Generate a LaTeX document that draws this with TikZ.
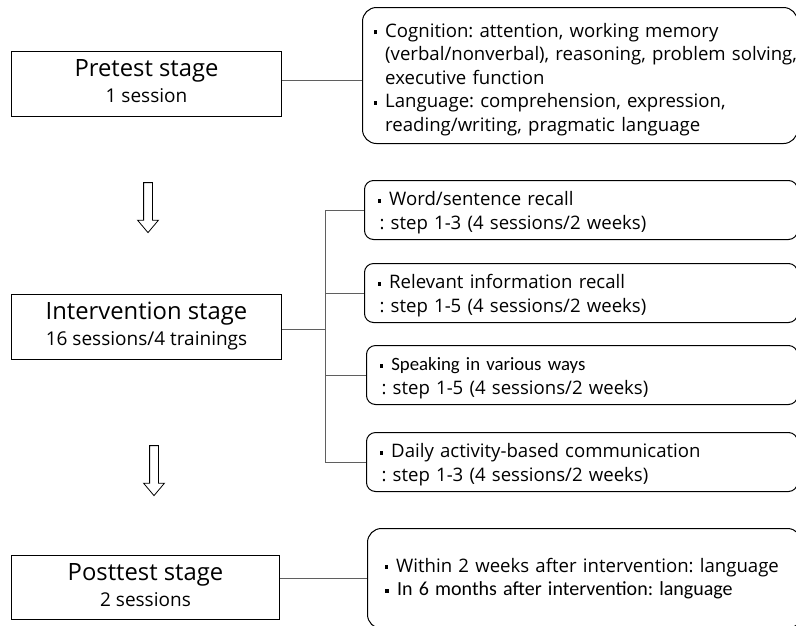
\documentclass[tikz,border=0pt]{standalone}
\usepackage{fontspec}
\setmainfont{Open Sans}
\newfontfamily\carlito{Carlito}
\usetikzlibrary{positioning,shapes.arrows}
\definecolor{linegray}{RGB}{95,95,95}
\newcommand{\blt}{\raisebox{0.3ex}{\rule{0.21em}{0.21em}}\hspace{0.42em}}
\newcommand{\indt}{\phantom{\blt}}
\newcommand{\topgap}[1]{\rule{0pt}{#1}}
\frenchspacing

\begin{document}
\begin{tikzpicture}[x=1pt,y=-1pt,
  stagebox/.style={draw,line width=1pt,minimum width=270pt,minimum height=65pt,
    anchor=north west,align=center,inner sep=0pt,text depth=6pt,
    font=\fontsize{23.8}{26}\selectfont},
  infobox/.style={draw,line width=1pt,rounded corners=9pt,anchor=north west,
    align=left,inner xsep=13pt,inner ysep=0pt,font=\fontsize{18.6}{23.5}\selectfont},
  link/.style={linegray,line width=0.8pt},
  flowarrow/.style={draw,line width=0.8pt,single arrow,shape border rotate=270,
    minimum width=20pt,single arrow head extend=6pt,minimum height=50pt,
    single arrow tip angle=80,inner sep=4pt}]
  \useasboundingbox (0,0) rectangle (796,625);
  \clip (0,0) rectangle (796,625);

  % Stages
  \node[stagebox] (pre) at (11,51)
    {Pretest stage\\{\fontsize{19}{26}\selectfont 1 session}};
  \node[stagebox] (int) at (11,294)
    {Intervention stage\\{\fontsize{19}{26}\selectfont 16 sessions/4 trainings}};
  \node[stagebox,minimum width=268pt,minimum height=64pt] (post) at (11,555)
    {Posttest stage\\{\fontsize{19}{26}\selectfont 2 sessions}};

  % Arrows between stages
  \node[flowarrow] (arr1) at (148,205) {};
  \node[flowarrow] (arr2) at (154,468) {};

  % Assessment contents
  \node[infobox,rounded corners=14pt,minimum height=136pt,text width=413pt,inner xsep=11pt] (cog) at (362,7)
    {\topgap{22pt}\blt Cognition: attention, working memory\\
     \mbox{\indt(verbal/nonverbal), reasoning, problem solving,}\\
     \indt executive function\\
     \blt Language: comprehension, expression,\\
     \indt reading/writing, pragmatic language};

  % Trainings
  \node[infobox,minimum height=59pt,text width=407pt] (tr1) at (364,180)
    {\topgap{19pt}\blt Word/sentence recall\\ \hspace*{2pt}: step 1-3 (4 sessions/2 weeks)};
  \node[infobox,minimum height=59pt,text width=407pt] (tr2) at (364,263)
    {\topgap{19pt}\blt Relevant information recall\\ \hspace*{2pt}: step 1-5 (4 sessions/2 weeks)};
  \node[infobox,minimum height=59pt,text width=405pt] (tr3) at (366,345)
    {{\carlito\fontsize{18.8}{23.5}\selectfont\topgap{19pt}\blt Speaking in various ways}\\ \hspace*{2pt}: step 1-5 (4 sessions/2 weeks)};
  \node[infobox,minimum height=59pt,text width=405pt] (tr4) at (366,432)
    {\topgap{19pt}\blt Daily activity-based communication\\ \hspace*{2pt}: step 1-3 (4 sessions/2 weeks)};

  % Follow-up
  \node[infobox,rounded corners=14pt,minimum height=100pt,text width=400pt,inner xsep=17pt] (fol) at (367,528)
    {\blt Within 2 weeks after intervention: language\\
     {\carlito\fontsize{20}{23}\selectfont\blt In 6 months after intervention: language}};

  % Links
  \coordinate (trunk) at (325,0);
  \draw[link] (pre.east |- 0,80) -- (cog.west |- 0,80);
  \draw[link] (int.east |- 0,329) -- (trunk |- 0,329);
  \draw[link] (trunk |- tr1.west) -- (trunk |- tr4.west);
  \foreach \t in {tr1,tr2,tr3,tr4}
    \draw[link] (trunk |- \t.west) -- (\t.west);
  \draw[link] (post.east |- fol.west) -- (fol.west);
\end{tikzpicture}
\end{document}
